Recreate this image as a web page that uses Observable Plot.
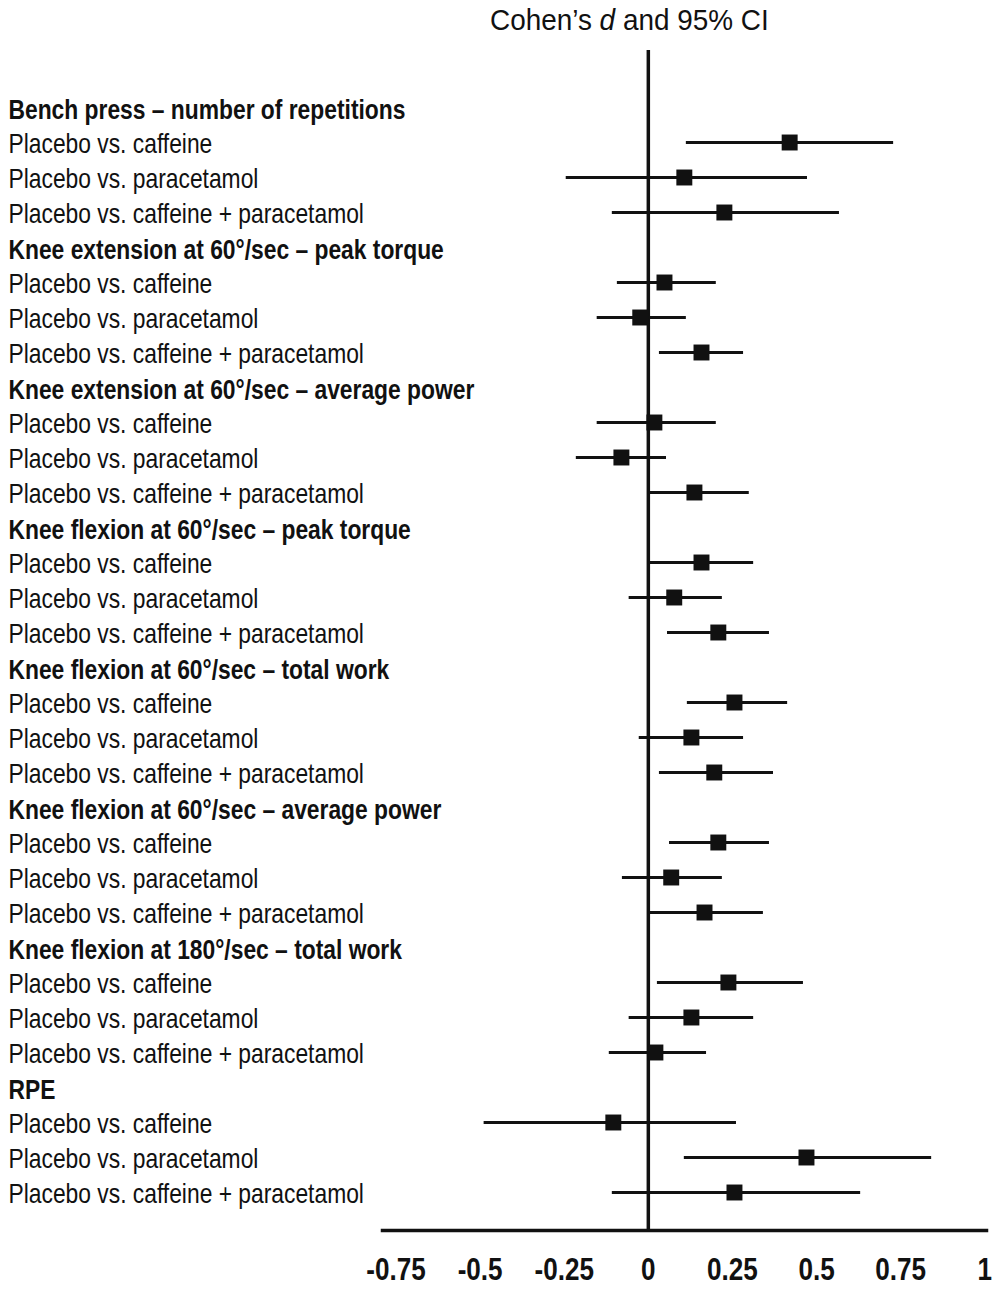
<!DOCTYPE html>
<html>
<head>
<meta charset="utf-8">
<script src="https://cdn.jsdelivr.net/npm/d3@7"></script>
<script src="https://cdn.jsdelivr.net/npm/@observablehq/plot@0.6"></script>
<style>
  html, body { margin: 0; padding: 0; background: #fff; }
  #wrap { position: relative; width: 995px; height: 1290px; }
  #title { position: absolute; left: 490px; top: 3px; font-family: 'Liberation Sans', Arial, sans-serif; font-size: 30px; line-height: 34px; color: #111; white-space: nowrap; transform: scaleX(0.93); transform-origin: left top; }
  #chart { position: absolute; left: 0; top: 0; }
</style>
</head>
<body>
<div id="wrap">
  <div id="chart"></div>
  <div id="title">Cohen’s <i>d</i> and 95% CI</div>
</div>
<script>
const groups = [
  "Bench press – number of repetitions",
  "Knee extension at 60°/sec – peak torque",
  "Knee extension at 60°/sec – average power",
  "Knee flexion at 60°/sec – peak torque",
  "Knee flexion at 60°/sec – total work",
  "Knee flexion at 60°/sec – average power",
  "Knee flexion at 180°/sec – total work",
  "RPE"
];
const comparisons = [
  "Placebo vs. caffeine",
  "Placebo vs. paracetamol",
  "Placebo vs. caffeine + paracetamol"
];
// Cohen's d and 95% CI, in order group by group, comparison by comparison
const cohenD = [0.42, 0.107, 0.226, 0.048, -0.024, 0.158, 0.018, -0.08, 0.137, 0.158, 0.077, 0.208,
                0.256, 0.128, 0.196, 0.208, 0.068, 0.167, 0.238, 0.128, 0.021, -0.104, 0.47, 0.256];
const ciLow  = [0.113, -0.244, -0.107, -0.092, -0.152, 0.033, -0.152, -0.214, 0.0, 0.0, -0.057, 0.057,
                0.116, -0.027, 0.033, 0.063, -0.077, 0.0, 0.027, -0.057, -0.116, -0.488, 0.107, -0.107];
const ciHigh = [0.729, 0.473, 0.568, 0.202, 0.113, 0.283, 0.202, 0.054, 0.30, 0.313, 0.22, 0.36,
                0.414, 0.283, 0.372, 0.36, 0.22, 0.342, 0.461, 0.313, 0.173, 0.262, 0.842, 0.631];
const tickValues = [-0.75, -0.5, -0.25, 0, 0.25, 0.5, 0.75, 1];
const tickLabels = ["-0.75", "-0.5", "-0.25", "0", "0.25", "0.5", "0.75", "1"];

const rows = [];
let k = 0;
groups.forEach((g, gi) => {
  rows.push({key: `h${gi}`, label: g, header: true});
  comparisons.forEach((c, ci) => {
    rows.push({key: `r${gi}_${ci}`, label: c, header: false, d: cohenD[k], lo: ciLow[k], hi: ciHigh[k]});
    k++;
  });
});
const headers = rows.filter(r => r.header);
const items = rows.filter(r => !r.header);

const FONT = "'Liberation Sans', Arial, sans-serif";

const chart = Plot.plot({
  width: 995,
  height: 1290,
  marginLeft: 382,
  marginRight: 9,
  marginTop: 50,
  marginBottom: 60,
  style: {fontFamily: FONT, background: "#fff", color: "#111", overflow: "visible"},
  x: {domain: [-0.79, 1.005], label: null},
  y: {type: "point", domain: rows.map(r => r.key), range: [104, 1195], padding: 0, axis: null},
  marks: [
    Plot.ruleX([0], {stroke: "#111", strokeWidth: 3.5}),
    Plot.frame({anchor: "bottom", stroke: "#111", strokeWidth: 3.5}),
    Plot.ruleY(items, {y: "key", x1: "lo", x2: "hi", stroke: "#111", strokeWidth: 3}),
    Plot.dot(items, {y: "key", x: "d", symbol: "square", r: 9, fill: "#111", stroke: "none"}),
    Plot.text(headers, {y: "key", text: "label", frameAnchor: "left", dx: -374, dy: 3, textAnchor: "start", fontSize: 28, fontWeight: "bold", fill: "#111"}),
    Plot.text(items, {y: "key", text: "label", frameAnchor: "left", dx: -374, dy: 2, textAnchor: "start", fontSize: 28, fill: "#111"}),
    Plot.axisX({ticks: tickValues, tickFormat: d => tickLabels[tickValues.indexOf(d)], tickSize: 0, tickPadding: 27, fontSize: 32, fontWeight: "bold", label: null})
  ]
});
document.getElementById("chart").appendChild(chart);

// Condense the text horizontally to match the narrow typeface of the original
chart.querySelectorAll("text").forEach(t => {
  const len = t.getComputedTextLength();
  if (len > 0) {
    t.setAttribute("textLength", (len * 0.815).toFixed(1));
    t.setAttribute("lengthAdjust", "spacingAndGlyphs");
  }
});
</script>
</body>
</html>
